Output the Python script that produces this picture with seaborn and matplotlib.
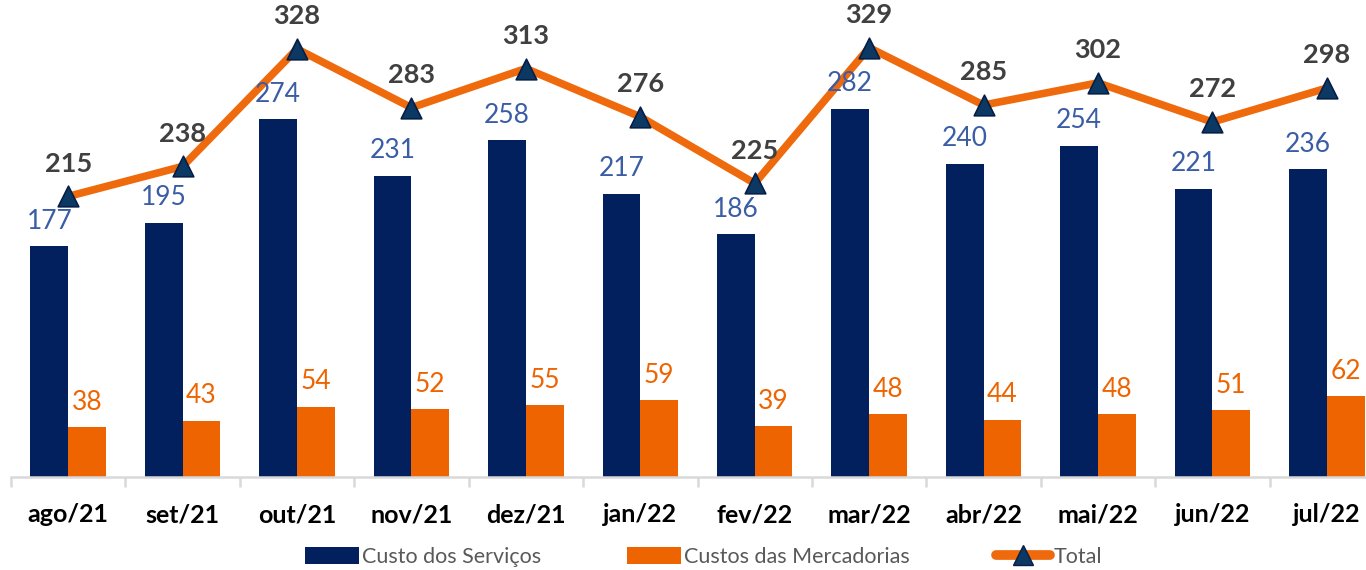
import numpy as np
import pandas as pd
import matplotlib
matplotlib.use("Agg")
import matplotlib.pyplot as plt
import seaborn as sns
from matplotlib.patches import Patch
from matplotlib.lines import Line2D

months = ["ago/21", "set/21", "out/21", "nov/21", "dez/21", "jan/22",
          "fev/22", "mar/22", "abr/22", "mai/22", "jun/22", "jul/22"]
servicos = [177, 195, 274, 231, 258, 217, 186, 282, 240, 254, 221, 236]
mercadorias = [38, 43, 54, 52, 55, 59, 39, 48, 44, 48, 51, 62]
total = [215, 238, 328, 283, 313, 276, 225, 329, 285, 302, 272, 298]
series_names = ["Custo dos Serviços", "Custos das Mercadorias", "Total"]

NAVY = "#03205E"
ORANGE = "#EE6400"
LINE_OR = "#EE6A0C"
NAVY_TXT = "#3A5DA5"
GREY_TXT = "#404040"

sns.set_theme(style="white")
plt.rcParams["font.family"] = ["Lato", "DejaVu Sans"]

df = pd.DataFrame({
    "mes": months * 2,
    "valor": servicos + mercadorias,
    "serie": [series_names[0]] * len(months) + [series_names[1]] * len(months),
})

fig = plt.figure(figsize=(13.66, 5.70), dpi=100)
ax = fig.add_axes([11 / 1366, 93 / 570, 1373 / 1366, 477 / 570])

sns.barplot(data=df, x="mes", y="valor", hue="serie", order=months,
            hue_order=series_names[:2], palette=[NAVY, ORANGE],
            width=0.66, gap=0, ax=ax, legend=False, saturation=1,
            linewidth=0, edgecolor="none")

xs = np.arange(len(months))
sns.lineplot(x=xs, y=total, color=LINE_OR, linewidth=5.5, ax=ax, zorder=3)
sns.scatterplot(x=xs, y=total, marker="^", s=220, color="#0C3864",
                edgecolor="#071E45", linewidth=1.2, ax=ax, zorder=4)

ax.bar_label(ax.containers[0], labels=[str(v) for v in servicos],
             padding=9, color=NAVY_TXT, fontsize=19)
ax.bar_label(ax.containers[1], labels=[str(v) for v in mercadorias],
             padding=9, color=ORANGE, fontsize=19)
for x, v in zip(xs, total):
    ax.annotate(str(v), (x, v), xytext=(0, 15), textcoords="offset points",
                ha="center", va="bottom", fontsize=19.5, fontweight="bold",
                color=GREY_TXT)

ax.set_xlim(-0.5, len(months) - 0.5)
ax.set_ylim(0, 365.5)
ax.set_xlabel("")
ax.set_ylabel("")
ax.set_yticks([])
for s in ["top", "right", "left"]:
    ax.spines[s].set_visible(False)
ax.spines["bottom"].set_color("#D9D9D9")
ax.spines["bottom"].set_linewidth(1.8)

ax.set_xticks(xs)
ax.set_xticklabels(months, fontsize=18, fontweight="bold", color="black")
ax.set_xticks(np.arange(len(months) + 1) - 0.5, minor=True)
ax.tick_params(axis="x", which="major", length=0, pad=19)
ax.tick_params(axis="x", which="minor", length=7, width=1.8, color="#D9D9D9",
               bottom=True)

handles = [
    Patch(facecolor=NAVY, edgecolor="none"),
    Patch(facecolor=ORANGE, edgecolor="none"),
    Line2D([], [], color=LINE_OR, linewidth=7, marker="^", markersize=14,
           markerfacecolor="#0C3864", markeredgecolor="#071E45",
           solid_capstyle="round"),
]
fig.legend(handles, series_names, loc="center", ncol=3,
           bbox_to_anchor=(0.515, 1 - 557 / 570), frameon=False,
           fontsize=15.5, handlelength=2.5, handleheight=0.85,
           handletextpad=0.15, columnspacing=4.0, labelcolor="#595959")

fig.savefig("out.png", dpi=100)
